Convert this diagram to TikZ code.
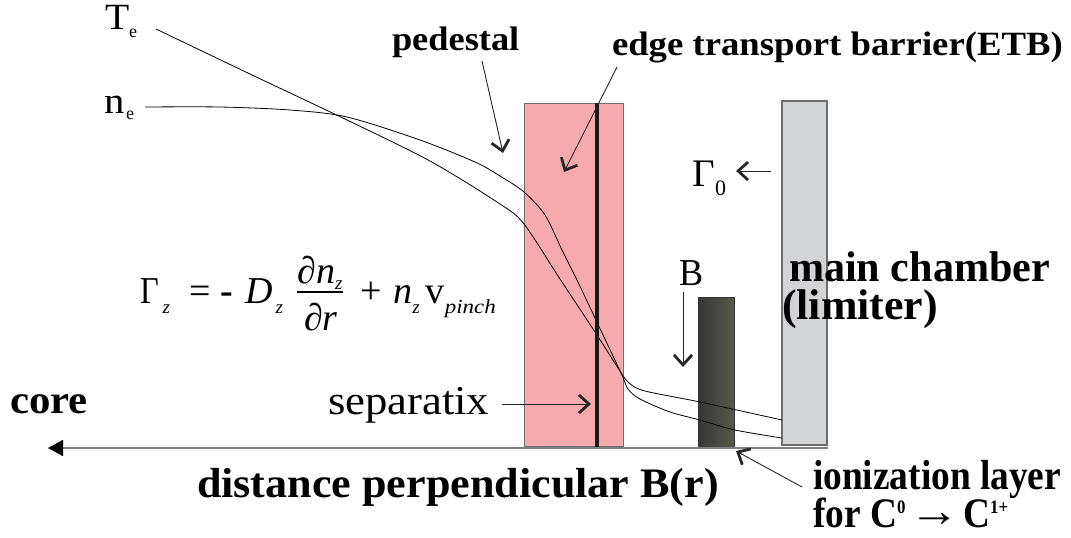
\documentclass[tikz,border=0pt]{standalone}
\usepackage{fontspec}
\setmainfont{Liberation Serif}
\usepackage{graphicx}
\usetikzlibrary{arrows.meta}
\definecolor{pinkfill}{RGB}{246,170,173}
\definecolor{grayfill}{RGB}{211,212,214}
\definecolor{darkL}{RGB}{54,54,54}
\definecolor{darkR}{RGB}{88,88,74}
\definecolor{axisgray}{RGB}{128,128,128}
\definecolor{edgegray}{RGB}{110,110,110}
\newcommand\fsz[1]{\fontsize{#1}{#1}\selectfont}
\newcommand\hs[2]{\scalebox{#1}[1]{#2}}
\begin{document}
\begin{tikzpicture}[x=1pt,y=-1pt,
  lbl/.style={anchor=base west,inner sep=0pt,outer sep=0pt},
  ann/.style={draw=black!85,line width=0.9pt,-{Straight Barb[length=10pt,width=18pt,line width=2.8pt]}},
  prof/.style={draw=black,line width=0.8pt}]
\useasboundingbox[fill=white] (0,0) rectangle (1071,538);

% regions
\filldraw[fill=pinkfill,draw=edgegray,line width=1pt] (524,103) rectangle (623,446);
\filldraw[fill=grayfill,draw=edgegray,line width=1.2pt] (782,101) rectangle (827,445);
\shade[left color=darkL,right color=darkR] (698,297) rectangle (734,448);
\draw[darkL,line width=1pt] (698,297) rectangle (734,448);

% profiles
\draw[prof] plot[smooth,tension=0.5] coordinates {(156,29) (250,74) (347,120) (430,161) (500,204) (524,224) (560,279) (595,332) (620,371) (629,383) (645,391) (700,402) (782,420)};
\draw[prof] plot[smooth,tension=0.5] coordinates {(145,107) (220,107) (290,110) (347,117) (420,140) (475,162) (500,176) (524,192) (545,215) (562,250) (577,280) (595,318) (621,373) (628,389) (640,399) (670,412) (700,420) (735,430) (782,438)};

% separatrix
\draw[black!90,line width=3.3pt] (597,103) -- (597,448);

% axis
\coordinate (axR) at (828,448);
\coordinate (axL) at (48,448);
\draw[axisgray,line width=1.8pt,-{Triangle[length=15pt,width=16pt,color=black]}] (axR) -- (axL);

% labels
\node[lbl] (te) at (105,29) {\hs{1.07}{\fsz{37}T}};
\node[lbl] (tesub) at (129,37) {\fsz{18}e};
\node[lbl] (ne) at (104,113) {\hs{1.1}{\fsz{37}n}};
\node[lbl] (nesub) at (126,119) {\fsz{18}e};

\node[lbl] (ped) at (392,50) {\hs{1.07}{\fsz{34}\bfseries pedestal}};
\node[lbl] (etb) at (612,55) {\hs{1.08}{\fsz{34}\bfseries edge transport barrier(ETB)}};

\node[lbl] (g0) at (692,186) {\fsz{39}Γ};
\node[lbl] (g0s) at (715,195) {\fsz{22}0};

\node[lbl] (blbl) at (679,285) {\hs{0.95}{\fsz{38}B}};

\node[lbl] (mc1) at (789,281) {\hs{0.98}{\fsz{43}\bfseries main chamber}};
\node[lbl] (mc2) at (782,319) {\hs{1.02}{\fsz{43}\bfseries (limiter)}};

\node[lbl] (core) at (10,413) {\hs{1.07}{\fsz{40}\bfseries core}};
\node[lbl] (sep) at (328,414) {\hs{1.09}{\fsz{41}separatix}};
\node[lbl] (dist) at (197,497) {\hs{1.05}{\fsz{42}\bfseries distance perpendicular B(r)}};

\node[lbl] (ion1) at (813,489) {\hs{0.89}{\fsz{42}\bfseries ionization layer}};
\node[lbl] (ion2) at (813,527) {\hs{0.89}{\fsz{42}\bfseries for C\raisebox{14pt}{\fsz{19}0}\hspace{5pt}\raisebox{1pt}{\scalebox{1.35}[1.1]{→}}\hspace{3pt}C\raisebox{14pt}{\fsz{19}1+}}};

% equation
\node[lbl] (eqL) at (140,303) {\fsz{38}\hs{0.85}{Γ}\hspace{4pt}\raisebox{-10pt}{\fsz{19}\itshape z}\hspace{19pt}=\hspace{10pt}\textbf{-}\hspace{12pt}\textit{D}\hspace{3pt}\raisebox{-10pt}{\fsz{19}\itshape z}};
\node[anchor=base,inner sep=0pt] (eqN) at (320,283) {\fsz{38}∂\textit{n}\raisebox{-6pt}{\fsz{19}\itshape z}};
\node[anchor=base,inner sep=0pt] (eqD) at (321,330) {\fsz{38}∂\textit{r}};
\draw[line width=1.5pt] (eqN.south west |- 0,292) -- (eqN.south east |- 0,292);
\node[lbl] (eqR) at (360,303) {\fsz{38}+\hspace{12pt}\textit{n}\raisebox{-10pt}{\fsz{19}\itshape z}\hspace{6pt}v\raisebox{-10pt}{\hs{1.15}{\fsz{20}\itshape pinch}}};

% annotation arrows
\coordinate (pedA) at (482,61);
\coordinate (pedB) at (503,153);
\coordinate (etbA) at (617,67);
\coordinate (etbB) at (564,172);
\coordinate (g0A) at (771,171);
\coordinate (g0B) at (736,171);
\coordinate (bA) at (683,292);
\coordinate (bB) at (683,367);
\coordinate (sepA) at (502,404);
\coordinate (sepB) at (591,404);
\coordinate (ionA) at (802,487);
\coordinate (ionB) at (736,451);
\draw[ann] (pedA) -- (pedB);
\draw[ann] (etbA) -- (etbB);
\draw[ann] (g0A) -- (g0B);
\draw[ann] (bA) -- (bB);
\draw[ann] (sepA) -- (sepB);
\draw[ann] (ionA) -- (ionB);
\end{tikzpicture}
\end{document}
